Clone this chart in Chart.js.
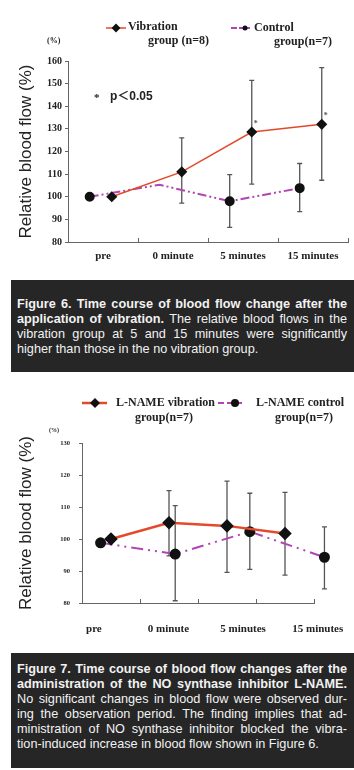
<!DOCTYPE html>
<html>
<head>
<meta charset="utf-8">
<script src="https://cdn.jsdelivr.net/npm/chart.js@4.4.1/dist/chart.umd.min.js"></script>
<style>
  body { margin: 0; background: #fff; width: 354px; height: 770px; position: relative; overflow: hidden;
         font-family: "Liberation Sans", Arial, sans-serif; }
  canvas { position: absolute; left: 0; }
  #fig6 { top: 0; }
  #fig7 { top: 372px; }
  .cap { position: absolute; left: 11px; width: 343px; box-sizing: border-box; background: #262626;
         color: #f2f2f2; font-size: 12.7px; line-height: 15px; padding: 0 7px 0 6px; }
  .cap div { text-align: justify; text-align-last: justify; white-space: normal; }
  .cap div.last { text-align-last: left; }
  #cap6 { top: 280px; height: 92px; padding-top: 17px; }
  #cap7 { top: 653px; height: 115px; padding-top: 9px; }
</style>
</head>
<body>
<canvas id="fig6" width="354" height="280"></canvas>
<div class="cap" id="cap6">
  <div><b>Figure 6. Time course of blood flow change after the</b></div>
  <div><b>application of vibration.</b> The relative blood flows in the</div>
  <div>vibration group at 5 and 15 minutes were significantly</div>
  <div class="last">higher than those in the no vibration group.</div>
</div>
<canvas id="fig7" width="354" height="280"></canvas>
<div class="cap" id="cap7">
  <div><b>Figure 7. Time course of blood flow changes after the</b></div>
  <div><b>administration of the NO synthase inhibitor L-NAME.</b></div>
  <div>No significant changes in blood flow were observed dur-</div>
  <div>ing the observation period. The finding implies that ad-</div>
  <div>ministration of NO synthase inhibitor blocked the vibra-</div>
  <div class="last">tion-induced increase in blood flow shown in Figure 6.</div>
</div>

<script>
/*
Two time course charts of relative blood flow (vibration vs control),
with error bars, drawn as line charts on linear x scales.
*/

// shared categories
const timePoints = ["pre", "0 minute", "5 minutes", "15 minutes"];

// Figure 6 values
const fig6Ticks = [80, 90, 100, 110, 120, 130, 140, 150, 160];
const fig6Vib = [100, 111, 128.6, 132];
const fig6VibLo = [null, 97.2, 105.6, 107.3];
const fig6VibHi = [null, 126, 151.4, 157.1];
const fig6VibSig = [false, false, true, true];
const fig6Ctl = [100, 105.3, 98, 103.8];
const fig6CtlLo = [null, null, 86.5, 93.4];
const fig6CtlHi = [null, null, 109.8, 114.7];
const fig6Legend = [["Vibration", "group (n=8)"], ["Control", "group(n=7)"]];

// Figure 7 values
const fig7Ticks = [80, 90, 100, 110, 120, 130];
const fig7Vib = [100, 105.1, 104.1, 101.7];
const fig7VibLo = [null, 94.7, 89.6, 88.7];
const fig7VibHi = [null, 115.1, 118.1, 114.6];
const fig7Ctl = [98.8, 95.3, 102.3, 94.3];
const fig7CtlLo = [null, 80.7, 90.5, 84.4];
const fig7CtlHi = [null, 110.4, 114.3, 103.8];
const fig7Legend = [["L-NAME vibration", "group(n=7)"], ["L-NAME control", "group(n=7)"]];

const RED = "#e34a2b";
const PURPLE = "#b145b5";
const AXIS = "#666";
const SERIF_B = '"Liberation Serif", "DejaVu Serif", serif';


// error bars, legend, notes
const extrasPlugin = {
  id: "extras",
  beforeDatasetsDraw(chart) {
    const ctx = chart.ctx;
    const ys = chart.scales.y;
    chart.data.datasets.forEach((ds, di) => {
      const meta = chart.getDatasetMeta(di);
      ctx.save();
      ctx.strokeStyle = "#555";
      ctx.lineWidth = 1.3;
      meta.data.forEach((pt, i) => {
        if (ds.errLo[i] == null) return;
        const y1 = ys.getPixelForValue(ds.errLo[i]);
        const y2 = ys.getPixelForValue(ds.errHi[i]);
        ctx.beginPath();
        ctx.moveTo(pt.x, y1); ctx.lineTo(pt.x, y2);
        ctx.moveTo(pt.x - 2.5, y1); ctx.lineTo(pt.x + 2.5, y1);
        ctx.moveTo(pt.x - 2.5, y2); ctx.lineTo(pt.x + 2.5, y2);
        ctx.stroke();
      });
      ctx.restore();
    });
  },
  afterDatasetsDraw(chart) {
    // markers that sit past the axis end are skipped by the library
    const a = chart.chartArea;
    const full = { left: 0, top: 0, right: chart.width, bottom: chart.height };
    chart.data.datasets.forEach((ds, di) => {
      chart.getDatasetMeta(di).data.forEach(pt => {
        if (pt.x > a.right || pt.x < a.left) {
          chart.ctx.save();
          pt.draw(chart.ctx, full);
          chart.ctx.restore();
        }
      });
    });
  },
  afterDraw(chart, args, opts) {
    const ctx = chart.ctx;
    ctx.save();
    ctx.textBaseline = "middle";
    ctx.textAlign = "left";

    // legend
    opts.legend.forEach((lg, k) => {
      const ds = chart.data.datasets[k];
      ctx.save();
      ctx.strokeStyle = ds.borderColor;
      ctx.lineWidth = ds.borderWidth;
      ctx.setLineDash(lg.dash || []);
      ctx.beginPath();
      ctx.moveTo(lg.x0, lg.y); ctx.lineTo(lg.x1, lg.y);
      ctx.stroke();
      ctx.restore();
      ctx.fillStyle = "#111";
      Chart.helpers.drawPoint(ctx, { pointStyle: ds.pointStyle, radius: lg.r, rotation: 0 }, lg.mx, lg.y);
      ctx.fillStyle = "#222";
      ctx.font = "bold " + opts.legendSize + "px " + SERIF_B;
      ds.legendText.forEach((t, j) => ctx.fillText(t, lg.tx[j], lg.ty[j]));
    });

    // unit label above the axis
    ctx.font = "bold " + opts.unit.size + "px " + SERIF_B;
    ctx.fillStyle = "#222";
    ctx.fillText("(%)", opts.unit.x, opts.unit.y);

    // significance marks
    chart.data.datasets.forEach((ds, di) => {
      if (!ds.sig) return;
      const meta = chart.getDatasetMeta(di);
      ctx.font = "bold 8px " + SERIF_B;
      ctx.fillStyle = "#555";
      meta.data.forEach((pt, i) => {
        if (ds.sig[i]) ctx.fillText("*", pt.x + 2, pt.y - 8);
      });
    });

    if (opts.note) {
      ctx.fillStyle = "#222";
      ctx.font = "bold 11px " + SERIF_B;
      ctx.fillText("*", opts.note.x, opts.note.y + 1);
      ctx.font = 'bold 12px "Liberation Sans", "Noto Sans CJK JP", sans-serif';
      ctx.fillText("p＜0.05", opts.note.x + 16, opts.note.y);
    }
    ctx.restore();
  }
};


// build one figure
function buildFigure(id, cfg) {
  const bounds = [-0.5, ...timePoints.map((_, i) => i + 0.5)];
  const series = (vals, off) => vals.map((v, i) => ({ x: i + off, y: v }));

  const datasets = [
    {
      data: series(cfg.vib, cfg.vibOff),
      xAxisID: "x",
      errLo: cfg.vibLo, errHi: cfg.vibHi, sig: cfg.vibSig,
      legendText: cfg.legend[0],
      borderColor: RED, borderWidth: cfg.redWidth,
      pointStyle: "rectRot", pointRadius: cfg.r + 1,
      pointBackgroundColor: "#111", pointBorderColor: "#111",
      tension: 0, clip: false
    },
    {
      data: series(cfg.ctl, cfg.ctlOff),
      xAxisID: cfg.ctlAxis,
      errLo: cfg.ctlLo, errHi: cfg.ctlHi,
      legendText: cfg.legend[1],
      borderColor: PURPLE, borderWidth: 2, borderDash: cfg.dash,
      pointStyle: "circle", pointRadius: cfg.ctlRadius,
      pointBackgroundColor: "#111", pointBorderColor: "#111",
      tension: 0, clip: false
    }
  ];

  return new Chart(document.getElementById(id), {
    type: "line",
    data: { datasets },
    plugins: [extrasPlugin],
    options: {
      responsive: false,
      animation: false,
      layout: { padding: { top: cfg.top, right: cfg.right, left: 0, bottom: 0 } },
      plugins: {
        legend: { display: false },
        tooltip: { enabled: false },
        extras: cfg.extras
      },
      scales: {
        x: {
          type: "linear", position: "bottom", min: -0.5, max: 3.5, weight: 0,
          afterBuildTicks: ax => { ax.ticks = bounds.map(v => ({ value: v })); },
          ticks: { display: false },
          grid: { drawOnChartArea: false, tickLength: -4, color: AXIS },
          border: { color: AXIS, width: 1 },
          afterFit: ax => { ax.height = 0; }
        },
        xl: {
          type: "linear", position: "bottom", min: cfg.labelMin, max: cfg.labelMax, weight: 1,
          afterBuildTicks: ax => { ax.ticks = timePoints.map((_, i) => ({ value: i })); },
          ticks: {
            autoSkip: false, maxRotation: 0, padding: cfg.labelPad,
            callback: (v, i) => timePoints[i],
            color: "#222", font: { family: SERIF_B, weight: "bold", size: 11 }
          },
          grid: { display: false, drawTicks: false },
          border: { display: false },
          afterFit: ax => {
            ax.height = cfg.bottom;
            ax.paddingLeft = 0;
            ax.paddingRight = 0;
          }
        },
        y: {
          min: cfg.yTicks[0], max: cfg.yTicks[cfg.yTicks.length - 1],
          afterBuildTicks: ax => { ax.ticks = cfg.yTicks.map(v => ({ value: v })); },
          ticks: {
            padding: cfg.yPad, color: "#222",
            font: { family: SERIF_B, weight: "bold", size: cfg.ySize }
          },
          grid: { drawOnChartArea: false, tickLength: 3, color: AXIS },
          border: { color: AXIS, width: 1 },
          title: {
            display: true, text: "Relative blood flow (%)", color: "#222",
            font: { family: '"Liberation Sans", Arial, sans-serif', size: 17 },
            padding: { top: 16, bottom: 0 }
          },
          afterFit: ax => { ax.width = cfg.left; }
        }
      }
    }
  });
}


// Figure 6
buildFigure("fig6", {
  vib: fig6Vib, vibLo: fig6VibLo, vibHi: fig6VibHi, vibSig: fig6VibSig,
  ctl: fig6Ctl, ctlLo: fig6CtlLo, ctlHi: fig6CtlHi,
  legend: fig6Legend, yTicks: fig6Ticks,
  vibOff: 0.125, ctlOff: -0.19, ctlAxis: "x",
  labelMin: -0.5, labelMax: 3.5, labelPad: 8,
  left: 68, right: 6, top: 61, bottom: 38,
  yPad: 3, ySize: 10,
  r: 3.5, ctlRadius: [4, 0, 4, 4], redWidth: 1.5,
  dash: [9, 3, 2, 3, 2, 3],
  extras: {
    legendSize: 12,
    legend: [
      { x0: 106, x1: 126, mx: 116, y: 28, r: 4.5, tx: [128, 148], ty: [27, 41] },
      { x0: 231, x1: 250, mx: 245, y: 28, r: 2.5, dash: [6, 2], tx: [254, 274], ty: [28, 42] }
    ],
    unit: { x: 47, y: 41, size: 8 },
    note: { x: 94, y: 97 }
  }
});

// Figure 7
buildFigure("fig7", {
  vib: fig7Vib, vibLo: fig7VibLo, vibHi: fig7VibHi, vibSig: null,
  ctl: fig7Ctl, ctlLo: fig7CtlLo, ctlHi: fig7CtlHi,
  legend: fig7Legend, yTicks: fig7Ticks,
  vibOff: 0, ctlOff: 0.09, ctlAxis: "xl",
  labelMin: -0.159, labelMax: 2.95, labelPad: 20,
  left: 82, right: 40, top: 71, bottom: 49,
  yPad: 9, ySize: 6.5,
  r: 4, ctlRadius: 4.5, redWidth: 2.5,
  dash: [12, 5, 2, 5, 2, 5],
  extras: {
    legendSize: 12,
    legend: [
      { x0: 82, x1: 107, mx: 95, y: 31, r: 5, tx: [116, 135], ty: [31, 46] },
      { x0: 218, x1: 245, mx: 235, y: 31, r: 4, dash: [6, 3], tx: [256, 275], ty: [31, 46] }
    ],
    unit: { x: 49, y: 58, size: 6 },
    note: null
  }
});
</script>
</body>
</html>
